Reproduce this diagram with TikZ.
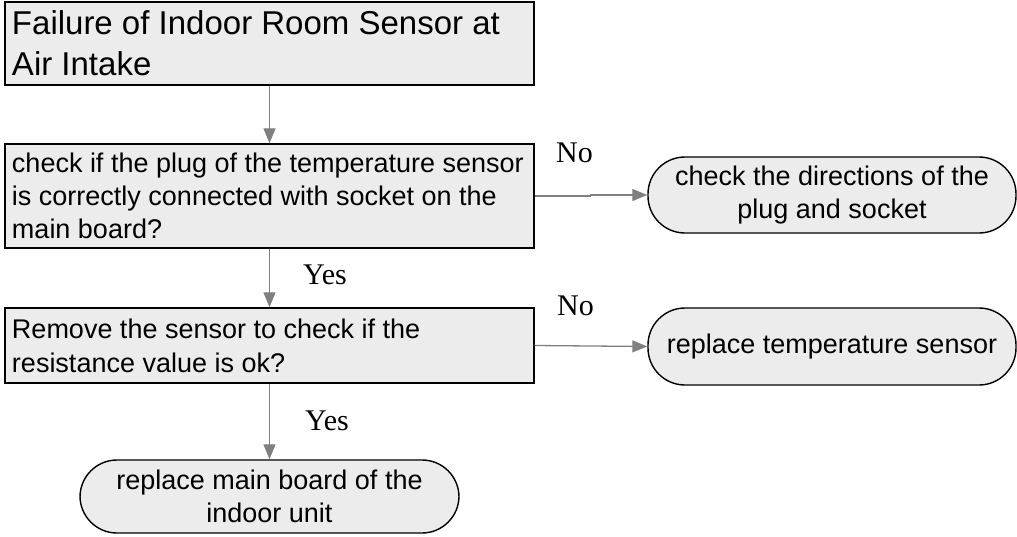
\documentclass[tikz,border=0pt]{standalone}
\usepackage{fontspec}
\setmainfont{Liberation Sans}
\newfontfamily\answerfont{Liberation Serif}
\usetikzlibrary{arrows.meta}

\begin{document}
\begin{tikzpicture}[x=1pt, y=-1pt,
  box/.style={draw, line width=1.4pt, fill=gray!15, inner xsep=7pt, inner ysep=0pt, text width=515pt, align=flush left},
  endbox/.style={draw, line width=1.4pt, fill=gray!15, rounded corners=37pt, inner sep=0pt, align=center, font=\fontsize{27}{33}\selectfont},
  arr/.style={-{Triangle[length=15pt, width=12pt]}, draw=gray, line width=1.3pt},
  answer/.style={anchor=base west, inner sep=0pt, font=\answerfont\fontsize{30}{36}\selectfont}
]
\useasboundingbox (0,0) rectangle (1017,536);
\node[box, minimum height=83pt, font=\fontsize{33}{41}\selectfont] (start) at (269.5,43.5) {Failure of Indoor Room Sensor at\\Air Intake};
\node[box, minimum height=104pt, font=\fontsize{27}{33}\selectfont] (plug) at (269.5,196) {check if the plug of the temperature sensor\\is correctly connected with socket on the\\main board?};
\node[box, minimum height=75pt, font=\fontsize{27}{34}\selectfont] (resist) at (269.5,345.5) {Remove the sensor to check if the\\resistance value is ok?};
\node[endbox, minimum width=368pt, minimum height=76pt] (direct) at (832,195) {check the directions of the\\plug and socket};
\node[endbox, minimum width=368pt, minimum height=77pt] (sensor) at (832,346.5) {replace temperature sensor};
\node[endbox, minimum width=379pt, minimum height=73pt] (board) at (269.5,496.5) {replace main board of the\\indoor unit};
\draw[arr] (start) -- (plug);
\draw[arr] (plug.east) -- ++(56,0) |- (direct.west);
\draw[arr] (plug) -- (resist);
\draw[arr] (resist.east) -- (sensor.west);
\draw[arr] (resist) -- (board);
\node[answer] (no1) at (556,162) {No};
\node[answer] (yes1) at (303,284) {Yes};
\node[answer] (no2) at (557,315) {No};
\node[answer] (yes2) at (305,430) {Yes};
\end{tikzpicture}
\end{document}
